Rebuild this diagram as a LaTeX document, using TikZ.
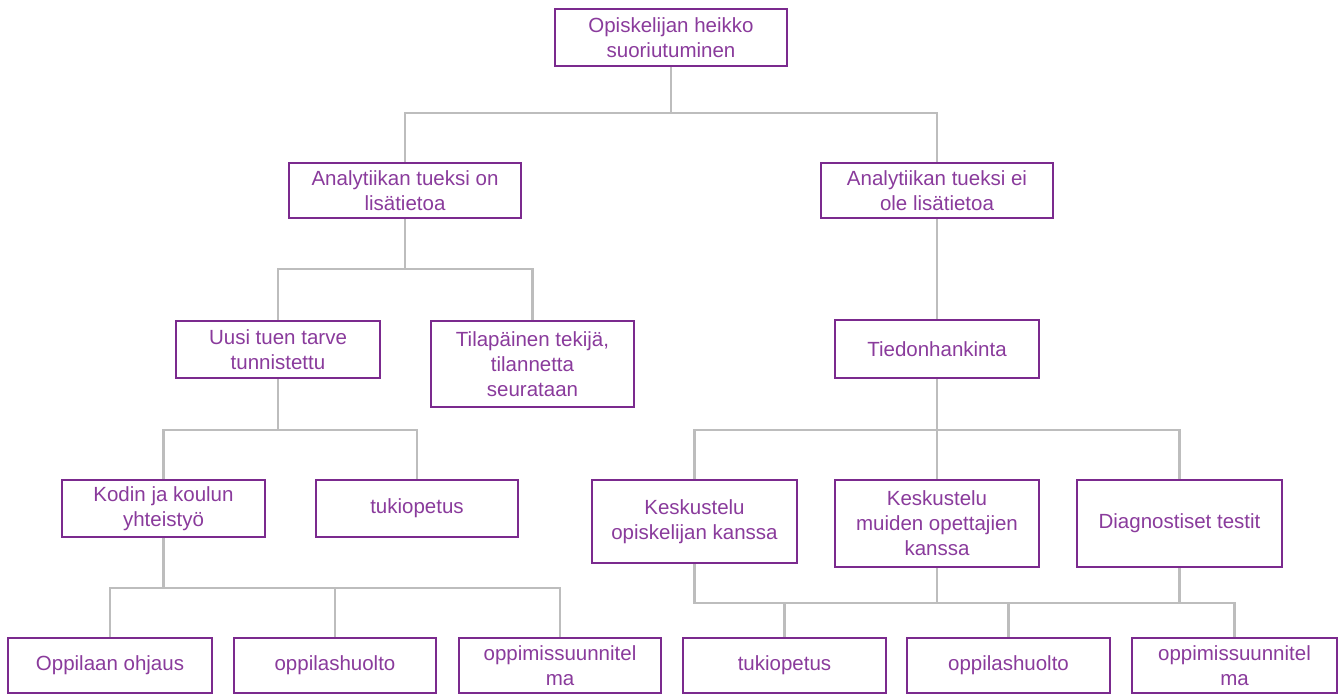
\documentclass[tikz,border=0pt]{standalone}
\usepackage{fontspec}
\setmainfont{Liberation Sans}
\definecolor{boxc}{HTML}{7B2A8E}
\definecolor{txtc}{HTML}{8A3B9C}
\definecolor{linec}{HTML}{BDBDBD}
\tikzset{
  bx/.style={draw=boxc, line width=2.5pt, text=txtc, align=center, inner sep=0pt,
    font=\fontsize{20.5}{25}\selectfont, fill=white},
  conn/.style={draw=linec, line width=2.3pt},
}
\newcommand{\bxnode}[6]{% name, x1, y1, x2, y2, text
  \pgfmathsetmacro{\bxw}{#4-#2}%
  \pgfmathsetmacro{\bxh}{#5-#3}%
  \pgfmathsetmacro{\bxcx}{(#2+#4)/2}%
  \pgfmathsetmacro{\bxcy}{(#3+#5)/2}%
  \node[bx, minimum width=\bxw pt, minimum height=\bxh pt] (#1) at (\bxcx,\bxcy) {#6};}
\begin{document}
\begin{tikzpicture}[x=1pt,y=-1pt]
\useasboundingbox (0,0) rectangle (1341,695);
% nodes
\bxnode{top}{555}{9}{787}{66}{Opiskelijan heikko\\suoriutuminen}
\bxnode{a1}{289}{163}{521}{218}{Analytiikan tueksi on\\lisätietoa}
\bxnode{a2}{821}{163}{1053}{218}{Analytiikan tueksi ei\\ole lisätietoa}
\bxnode{b1}{176}{321}{380}{378}{Uusi tuen tarve\\tunnistettu}
\bxnode{b2}{431}{321}{634}{407}{Tilapäinen tekijä,\\tilannetta\\seurataan}
\bxnode{b3}{835}{320}{1039}{378}{Tiedonhankinta}
\bxnode{c1}{62}{480}{265}{537}{Kodin ja koulun\\yhteistyö}
\bxnode{c2}{316}{480}{518}{537}{tukiopetus}
\bxnode{c3}{592}{480}{797}{563}{Keskustelu\\opiskelijan kanssa}
\bxnode{c4}{835}{480}{1039}{567}{Keskustelu\\muiden opettajien\\kanssa}
\bxnode{c5}{1077}{480}{1282}{567}{Diagnostiset testit}
\bxnode{d1}{8}{638}{212}{693}{Oppilaan ohjaus}
\bxnode{d2}{234}{638}{436}{693}{oppilashuolto}
\bxnode{d3}{459}{638}{661}{693}{oppimissuunnitel\\ma}
\bxnode{e1}{683}{638}{886}{693}{tukiopetus}
\bxnode{e2}{907}{638}{1110}{693}{oppilashuolto}
\bxnode{e3}{1132}{638}{1337}{693}{oppimissuunnitel\\ma}
% junctions
\coordinate (j1) at (671,113);
\coordinate (j2) at (405,269);
\coordinate (j3) at (278,430);
\coordinate (j4) at (937,430);
\coordinate (j5) at (163.5,588);
\coordinate (j6) at (694.5,603);
% connectors
\draw[conn] (top.south) -- (j1);
\draw[conn] (a1.north) |- (j1) -| (a2.north);
\draw[conn] (a1.south) -- (j2);
\draw[conn] (b1.north) |- (j2) -| (b2.north);
\draw[conn] (a2.south) -- (b3.north);
\draw[conn] (b1.south) -- (j3);
\draw[conn] (c1.north) |- (j3) -| (c2.north);
\draw[conn] (b3.south) -- (j4);
\draw[conn] (c3.north) |- (j4) -| (c5.north);
\draw[conn] (c4.north) -- (j4);
\draw[conn] (c1.south) -- (j5);
\draw[conn] (d1.north) |- (j5) -| (d3.north);
\draw[conn] (d2.north) -- (d2.north |- j5);
\draw[conn] (c3.south) -- (j6) -| (e3.north);
\draw[conn] (c4.south) -- (c4.south |- j6);
\draw[conn] (c5.south) -- (c5.south |- j6);
\draw[conn] (e1.north) -- (e1.north |- j6);
\draw[conn] (e2.north) -- (e2.north |- j6);
\end{tikzpicture}
\end{document}
